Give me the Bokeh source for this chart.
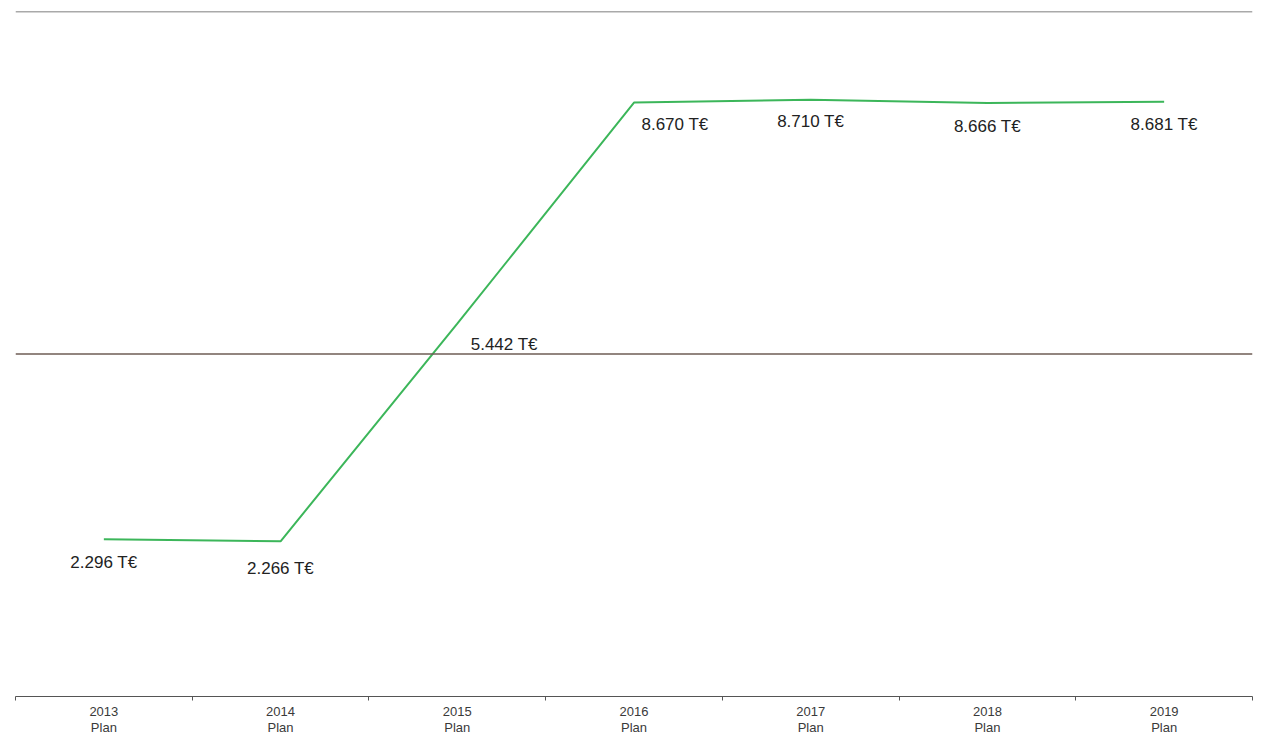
from bokeh.plotting import figure
from bokeh.models import Range1d, FixedTicker, ColumnDataSource, Span
from bokeh.core.properties import value
from bokeh.embed import file_html
from bokeh.resources import INLINE

# ---- data ----
years = ["2013", "2014", "2015", "2016", "2017", "2018", "2019"]
tick_labels = ["2013\nPlan", "2014\nPlan", "2015\nPlan", "2016\nPlan", "2017\nPlan", "2018\nPlan", "2019\nPlan"]
values = [2296, 2266, 5442, 8670, 8710, 8666, 8681]
reference_value = 5000
y_max = 10000

def fmt(v):
    return f"{v:,}".replace(",", ".") + " T€"

labels = [fmt(v) for v in values]
xs = [i + 0.5 for i in range(len(years))]

# label offsets (screen px)
lab_dx = [0, 0, 47, 41, 0, 0, 0]
lab_dy = [23, 27, 21, 22, 22, 24, 23]

p = figure(width=1270, height=738, output_backend="svg", toolbar_location=None,
           x_range=Range1d(0, len(years)), y_range=Range1d(0, y_max),
           y_axis_location=None,
           min_border_left=15, min_border_right=18, min_border_top=11, min_border_bottom=41)
p.outline_line_color = None
p.xgrid.visible = False
p.ygrid.visible = False
p.background_fill_color = "white"

ticker = FixedTicker(ticks=xs, minor_ticks=list(range(len(years) + 1)))
p.xaxis.ticker = ticker
p.xaxis.major_label_overrides = {x: t for x, t in zip(xs, tick_labels)}
p.xaxis.major_tick_out = 0
p.xaxis.major_tick_in = 0
p.xaxis.minor_tick_out = 4
p.xaxis.minor_tick_in = 0
p.xaxis.minor_tick_line_color = "#555555"
p.xaxis.axis_line_color = "#555555"
p.xaxis.axis_line_width = 1.2
p.xaxis.major_label_standoff = 3
p.xaxis.major_label_text_font = "Liberation Sans"
p.xaxis.major_label_text_font_size = "13px"
p.xaxis.major_label_text_color = "#3a3a3a"
p.xaxis.major_label_text_line_height = 1.1

top_line = Span(location=y_max, dimension="width", line_color="#555555", line_width=1.5)
ref_line = Span(location=reference_value, dimension="width", line_color="#6e5d55", line_width=1.5)
p.add_layout(top_line)
p.add_layout(ref_line)

src = ColumnDataSource(dict(x=xs, y=values, label=labels, dx=lab_dx, dy=lab_dy))
p.line("x", "y", source=src, line_color="#3cb65a", line_width=2)
p.text("x", "y", text="label", source=src, x_offset="dx", y_offset="dy",
       text_font=value("Liberation Sans"), text_font_size="17px", text_color="#222222",
       text_align="center", text_baseline="middle")

open("out.html", "w").write(file_html(p, INLINE))
